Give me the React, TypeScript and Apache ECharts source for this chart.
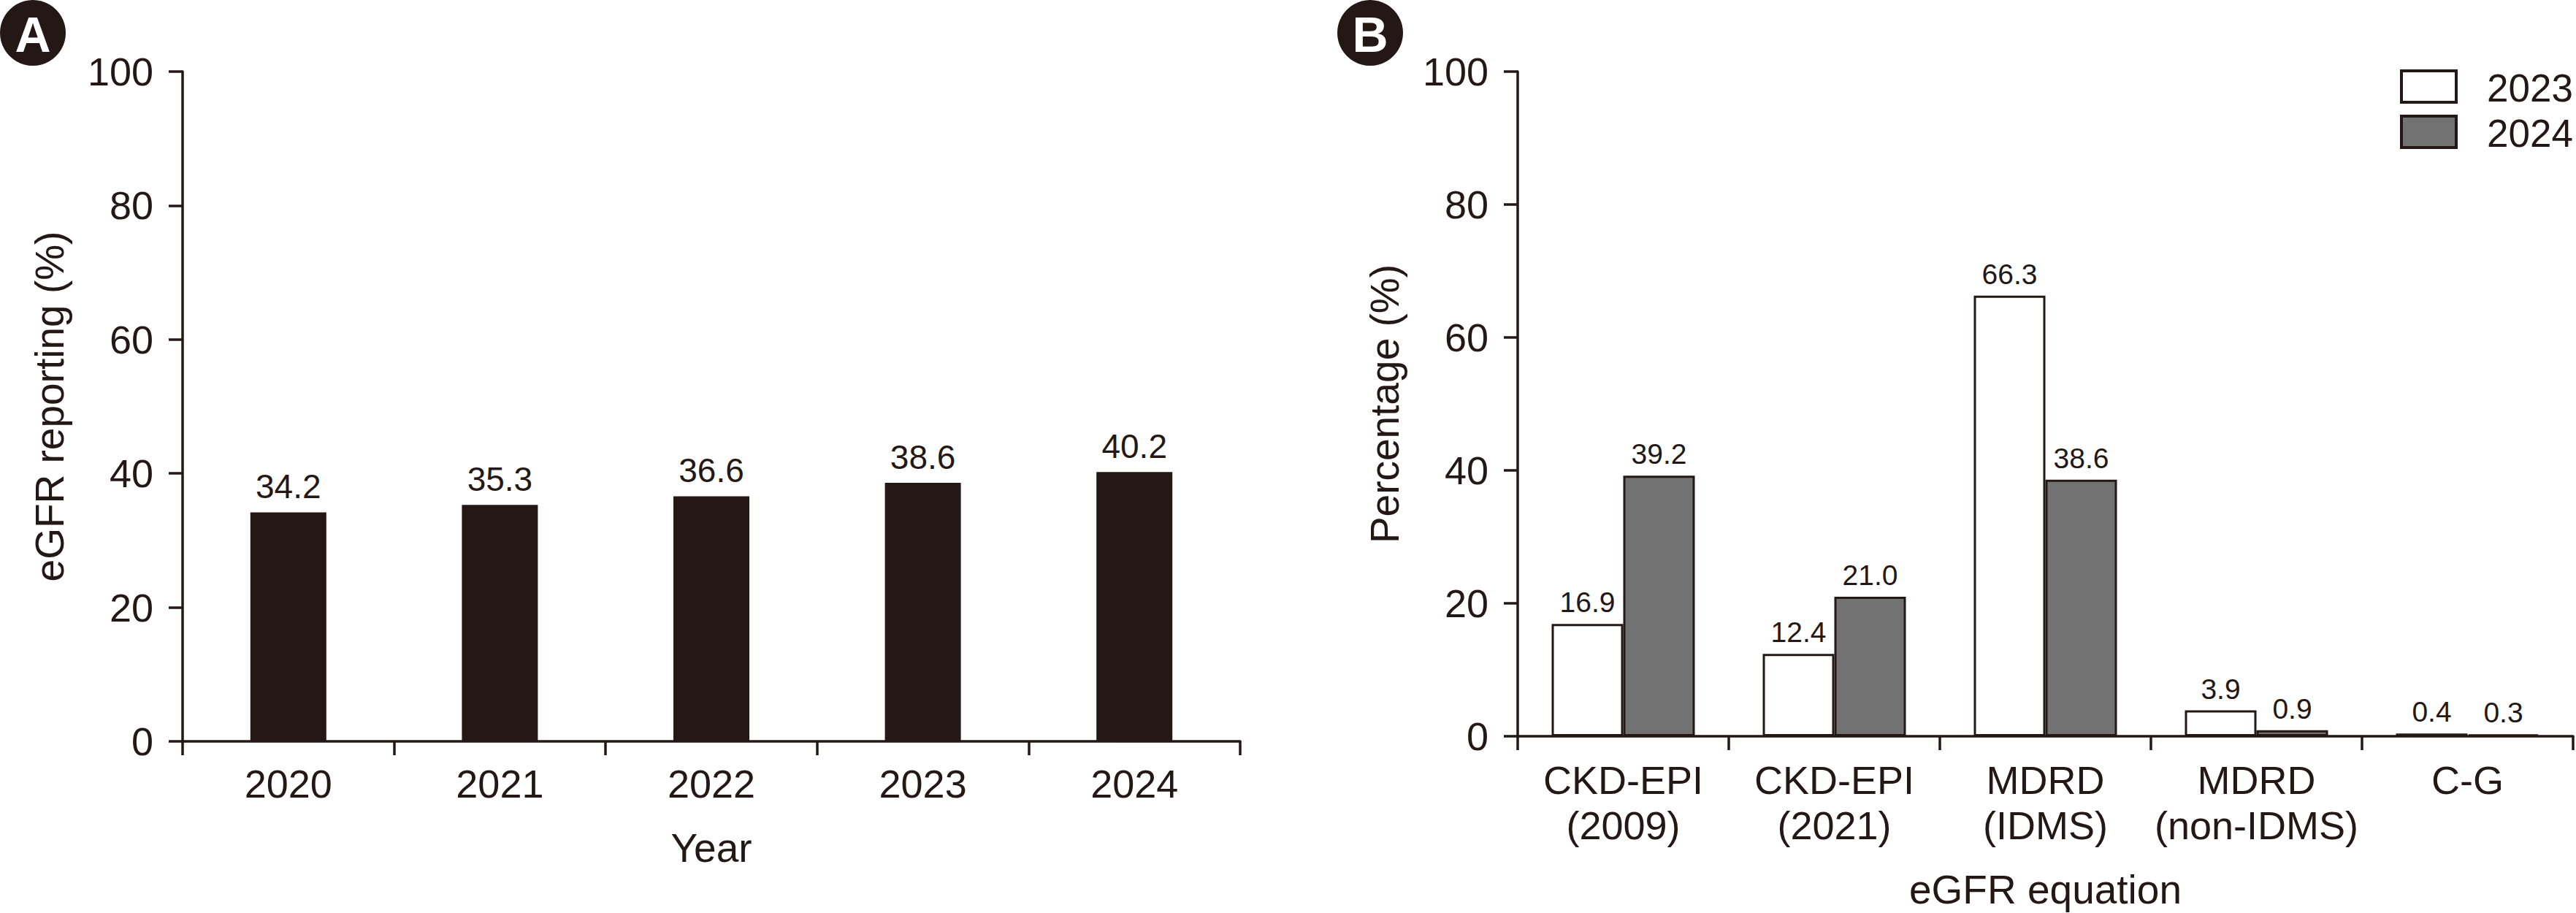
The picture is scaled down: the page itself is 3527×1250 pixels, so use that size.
import React, { useEffect, useRef } from "react";
import * as echarts from "echarts";

const yearCategories = ["2020", "2021", "2022", "2023", "2024"];
const reportingValues = [34.2, 35.3, 36.6, 38.6, 40.2];

const equationCategories = [
  "CKD-EPI\n(2009)",
  "CKD-EPI\n(2021)",
  "MDRD\n(IDMS)",
  "MDRD\n(non-IDMS)",
  "C-G",
];
const seriesNames = ["2023", "2024"];
const values2023 = [16.9, 12.4, 66.3, 3.9, 0.4];
const values2024 = [39.2, 21.0, 38.6, 0.9, 0.3];

const INK = "#231815";
const GRAY = "#727272";
const FONT = "'Liberation Sans', Arial, Helvetica, sans-serif";

export default function App() {
  const ref = useRef<HTMLDivElement | null>(null);

  useEffect(() => {
    document.body.style.margin = "0";
    if (!ref.current) return;
    const chart = echarts.init(ref.current, undefined, { renderer: "svg" });

    const axisLine = { show: true, lineStyle: { color: INK, width: 3.5 } };
    const axisTick = { show: true, length: 19, lineStyle: { color: INK, width: 3.5 } };

    const yAxisBase = (gridIndex: number, name: string) => ({
      type: "value",
      gridIndex,
      min: 0,
      max: 100,
      interval: 20,
      name,
      nameLocation: "middle",
      nameGap: 155,
      nameTextStyle: { color: INK, fontSize: 55, fontFamily: FONT },
      axisLine,
      axisTick,
      splitLine: { show: false },
      axisLabel: { color: INK, fontSize: 54, fontFamily: FONT, margin: 40 },
    });

    const valueLabel = (size: number, dist: number) => ({
      show: true,
      position: "top",
      distance: dist,
      color: INK,
      fontSize: size,
      fontFamily: FONT,
      formatter: (p: any) => Number(p.value).toFixed(1),
    });

    const legendFills = ["#ffffff", GRAY];
    const legendGraphics: any[] = [];
    seriesNames.forEach((nm, i) => {
      const y = 97 + i * 62;
      legendGraphics.push({
        type: "rect",
        shape: { x: 3288, y, width: 75, height: 43 },
        style: { fill: legendFills[i], stroke: INK, lineWidth: 4 },
      });
      legendGraphics.push({
        type: "text",
        x: 3405,
        y: y + 23,
        style: {
          text: nm,
          fill: INK,
          font: `53px ${FONT}`,
          align: "left",
          verticalAlign: "middle",
        },
      });
    });

    const option = {
      animation: false,
      backgroundColor: "#ffffff",
      grid: [
        { left: 250, right: 3527 - 1698, top: 98, bottom: 235 },
        { left: 2078, right: 4, top: 98, bottom: 235 },
      ],
      xAxis: [
        {
          type: "category",
          gridIndex: 0,
          data: yearCategories,
          name: "Year",
          nameLocation: "middle",
          nameGap: 118,
          nameTextStyle: { color: INK, fontSize: 55, fontFamily: FONT },
          axisLine,
          axisTick,
          axisLabel: { color: INK, fontSize: 54, fontFamily: FONT, margin: 31 },
        },
        {
          type: "category",
          gridIndex: 1,
          data: equationCategories,
          name: "eGFR equation",
          nameLocation: "middle",
          nameGap: 182,
          nameTextStyle: { color: INK, fontSize: 55, fontFamily: FONT },
          axisLine,
          axisTick,
          axisLabel: {
            color: INK,
            fontSize: 54,
            lineHeight: 62,
            fontFamily: FONT,
            margin: 29,
            interval: 0,
          },
        },
      ],
      yAxis: [yAxisBase(0, "eGFR reporting (%)"), yAxisBase(1, "Percentage (%)")],
      series: [
        {
          type: "bar",
          name: "reporting",
          xAxisIndex: 0,
          yAxisIndex: 0,
          data: reportingValues,
          barWidth: 104,
          itemStyle: { color: INK },
          label: valueLabel(46, 12),
        },
        {
          type: "bar",
          name: seriesNames[0],
          xAxisIndex: 1,
          yAxisIndex: 1,
          data: values2023,
          barWidth: 98,
          barGap: "0%",
          itemStyle: { color: "#ffffff", borderColor: INK, borderWidth: 3 },
          label: valueLabel(39, 10),
        },
        {
          type: "bar",
          name: seriesNames[1],
          xAxisIndex: 1,
          yAxisIndex: 1,
          data: values2024,
          barWidth: 98,
          barGap: "0%",
          itemStyle: { color: GRAY, borderColor: INK, borderWidth: 3 },
          label: valueLabel(39, 10),
        },
      ],
      graphic: [
        { type: "circle", shape: { cx: 45, cy: 45, r: 45 }, style: { fill: INK } },
        {
          type: "text",
          x: 45,
          y: 47,
          style: {
            text: "A",
            fill: "#ffffff",
            font: `bold 68px ${FONT}`,
            align: "center",
            verticalAlign: "middle",
          },
        },
        { type: "circle", shape: { cx: 1876, cy: 45, r: 45 }, style: { fill: INK } },
        {
          type: "text",
          x: 1876,
          y: 47,
          style: {
            text: "B",
            fill: "#ffffff",
            font: `bold 68px ${FONT}`,
            align: "center",
            verticalAlign: "middle",
          },
        },
        ...legendGraphics,
      ],
    };

    chart.setOption(option as any);
    return () => chart.dispose();
  }, []);

  return <div ref={ref} style={{ width: 3527, height: 1250 }} />;
}
